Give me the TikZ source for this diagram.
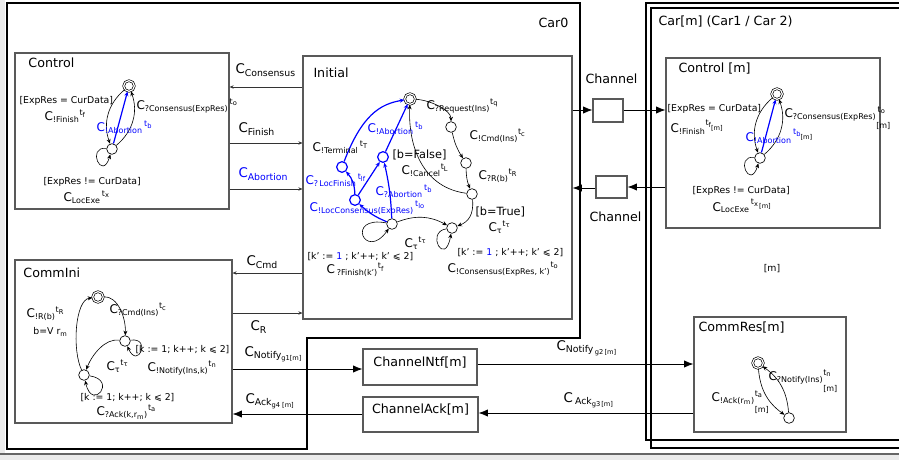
\documentclass[tikz,border=0pt]{standalone}
\usepackage{fontspec}
\setmainfont{DejaVu Sans}
\usetikzlibrary{arrows.meta,fit,positioning}

% channel label: C_{sub}^{sup}
\newcommand\Cl[2]{C\textsubscript{#1}\textsuperscript{#2}}
\newcommand\ts[1]{t\textsubscript{#1}}

\tikzset{every picture/.style={line width=0.75pt}}
\tikzset{
  box/.style={draw=black!65, line width=0.9pt, inner sep=0pt},
  carbox/.style={draw=black, line width=1.6pt},
  title/.style={font=\fontsize{9.5}{11}\selectfont, anchor=west, inner sep=0pt},
  lab/.style={font=\fontsize{9}{10}\selectfont, anchor=west, inner sep=0pt},
  cond/.style={font=\fontsize{8.5}{10}\selectfont, anchor=west, inner sep=0pt},
  guard/.style={font=\fontsize{7}{8}\selectfont, anchor=west, inner sep=0pt},
  sig/.style={font=\fontsize{10}{12}\selectfont, anchor=west, inner sep=0pt},
  loc/.style={circle, draw, minimum size=8pt, inner sep=0pt, fill=white, line width=0.5pt},
  iloc/.style={loc, double, double distance=0.9pt},
  bloc/.style={loc, draw=blue, line width=0.9pt},
  tr/.style={-{Stealth[length=3.5pt,width=3pt]}, line width=0.45pt},
  btr/.style={tr, draw=blue, line width=0.9pt},
  wire/.style={-{Stealth[length=3pt,width=2.6pt]}, line width=0.5pt, black!80},
  pipe/.style={-{Latex[length=7pt,width=5.5pt]}, line width=0.6pt},
}

\begin{document}
\begin{tikzpicture}[x=0.75pt,y=0.75pt,yscale=-1,xscale=1]
        \useasboundingbox (0,0) rectangle (899,460);
        % screen edges
        \fill[black!8] (0,0) rectangle (5,460);
        \fill[black!8] (0,453) rectangle (899,460);
        \draw[black!60, line width=1.5pt] (0,454) -- (899,454);

        % car outlines
        \draw[carbox] (7,3) -- (580,3) -- (580,338) -- (307,338) -- (307,449) -- (7,449) -- cycle;
        \draw[carbox] (646,3) rectangle (910,440);
        \draw[carbox] (651,8) rectangle (905,448);
        \node[title] at (538,23) {Car0};
        \node[title] at (658,22) {Car[m] (Car1 / Car 2)};

        % components
        \node[box, fit={(15,53) (229,209)}] (Control) {};
        \node[box, fit={(303,56) (572,319)}] (Initial) {};
        \node[box, fit={(15,260) (232,423)}] (CommIni) {};
        \node[box, fit={(593,99) (623,122)}] (ChanA) {};
        \node[box, fit={(596,176) (627,198)}] (ChanB) {};
        \node[box, fit={(666,58) (880,228)}] (ControlM) {};
        \node[box, fit={(694,317) (846,432)}] (CommRes) {};
        \node[box, fit={(363,349) (477,385)}, font=\fontsize{9.5}{11}\selectfont] (ChanNtf) {ChannelNtf[m]};
        \node[box, fit={(363,397) (478,432)}, font=\fontsize{9.5}{11}\selectfont] (ChanAck) {ChannelAck[m]};

        \node[title] at (28,63) {Control};
        \node[title] at (313,73) {Initial};
        \node[title] at (23,273) {CommIni};
        \node[title] at (678,69) {Control [m]};
        \node[title] at (698,328) {CommRes[m]};
        \node[title] at (585,79) {Channel};
        \node[title] at (589,217) {Channel};
        \node[guard, anchor=center] at (772,269) {[m]};

        % signals between components
        \draw[wire] (Initial.west |- 0,87) -- (Control.east |- 0,87);
        \node[sig] at (235,70) {\Cl{Consensus}{}};
        \draw[wire] (Control.east |- 0,143) -- (Initial.west |- 0,143);
        \node[sig] at (238,129) {\Cl{Finish}{}};
        \draw[wire] (Control.east |- 0,189) -- (Initial.west |- 0,189);
        \node[sig, blue] at (238,174) {\Cl{Abortion}{}};
        \draw[wire] (Initial.west |- 0,273) -- (CommIni.east |- 0,273);
        \node[sig] at (246,262) {\Cl{Cmd}{}};
        \draw[wire] (CommIni.east |- 0,313) -- (Initial.west |- 0,313);
        \node[sig] at (250,327) {\Cl{R}{}};
        \draw[pipe] (CommIni.east |- 0,369) -- (ChanNtf.west |- 0,369);
        \node[sig] at (244,354) {C\textsubscript{Notify\textsubscript{g1[m]}}};
        \draw[pipe] (ChanAck.west |- 0,414) -- (CommIni.east |- 0,414);
        \node[sig] at (245,401) {C\textsubscript{Ack\textsubscript{g4 [m]}}};
        \draw[pipe] (ChanNtf.east |- 0,364) -- (CommRes.west |- 0,364);
        \node[sig] at (556,348) {C\textsubscript{Notify\,\textsubscript{g2\,[m]}}};
        \draw[pipe] (CommRes.west |- 0,413) -- (ChanAck.east |- 0,413);
        \node[sig] at (563,400) {C\,\textsubscript{Ack\textsubscript{g3\,[m]}}};
        \draw[pipe] (Initial.east |- 0,110) -- (ChanA.west |- 0,110);
        \draw[pipe] (ChanA.east |- 0,110) -- (ControlM.west |- 0,110);
        \draw[pipe] (ControlM.west |- 0,187) -- (ChanB.east |- 0,187);
        \draw[pipe] (ChanB.west |- 0,188) -- (Initial.east |- 0,188);

        % Control automaton
        \node[iloc] (c0) at (129,86) {};
        \node[loc] (c1) at (112,149) {};
        \draw[tr] (c1) to[bend left=35] (c0);
        \draw[tr] (c0) to[bend left=35] (c1);
        \draw[tr] (c1) .. controls (86,146) and (102,182) .. (c1);
        \draw[btr] (c1) -- (c0);
        \node[guard] at (19,101) {[ExpRes = CurData]};
        \node[lab] at (44,116) {\Cl{!Finish}{\ts{f}}};
        \node[lab] at (136,106) {\Cl{?Consensus(ExpRes)}{\,\ts{o}}};
        \node[lab, blue] at (96,127) {\Cl{!Abortion}{\,\ts{b}}};
        \node[guard] at (43,182) {[ExpRes != CurData]};
        \node[lab] at (63,197) {\Cl{LocExe}{\,\ts{x}}};

        % Initial automaton
        \node[iloc] (i0) at (410,99) {};
        \node[loc] (i1) at (451,127) {};
        \node[loc] (i2) at (466,163) {};
        \node[loc] (i3) at (472,194) {};
        \node[loc] (i4) at (452,228) {};
        \node[loc] (i5) at (392,224) {};
        \node[bloc] (b1) at (355,200) {};
        \node[bloc] (b2) at (342,167) {};
        \node[bloc] (b3) at (383,157) {};
        \draw[tr] (i0) .. controls (430,100) and (451,110) .. (i1);
        \draw[tr] (i1) to[bend left=10] (i2);
        \draw[tr] (i2) to[bend left=10] (i3);
        \draw[tr] (i3) .. controls (474,215) and (468,222) .. (i4);
        \draw[tr] (i4) .. controls (425,232) and (445,268) .. (i4);
        \draw[tr] (i5) to[bend right=25] (i4);
        \draw[tr] (i5) .. controls (345,215) and (365,262) .. (i5);
        \draw[tr] (i3) .. controls (425,188) and (408,150) .. (i0);
        \draw[btr] (i5) to[bend right=10] (b1);
        \draw[btr] (i5) to[bend left=5] (b3);
        \draw[btr] (b1) to[bend left=20] (b2);
        \draw[btr] (b1) -- (b3);
        \draw[btr] (b2) .. controls (362,115) and (380,104) .. (i0);
        \draw[btr] (b3) -- (i0);
        \node[lab] at (426,106) {\Cl{?Request(Ins)}{\ts{q}}};
        \node[lab] at (469,136) {\Cl{!Cmd(Ins)}{\ts{c}}};
        \node[lab] at (478,176) {\Cl{?R(b)}{\ts{R}}};
        \node[lab] at (401,170) {\Cl{!Cancel}{\ts{L}}};
        \node[lab] at (312,147) {\Cl{!Terminal}{\,\ts{T}}};
        \node[lab, blue] at (367,128) {\Cl{!Abortion}{\,\ts{b}}};
        \node[lab, blue] at (305,180) {\Cl{?\,LocFinish}{\,\ts{lf}}};
        \node[lab, blue] at (375,191) {\Cl{?Abortion}{\,\ts{b}}};
        \node[lab, blue] at (309,208) {\Cl{!LocConsensus(ExpRes)}{\,\ts{lo}}};
        \node[cond] at (392,155) {[b=False]};
        \node[cond] at (475,212) {[b=True]};
        \node[lab] at (488,227) {\Cl{τ}{\ts{τ}}};
        \node[lab] at (404,243) {\Cl{τ}{\ts{τ}}};
        \node[guard] at (307,257) {[k' := \textcolor{blue}{1} ; k'++; k' ⩽ 2]};
        \node[lab] at (326,270) {C\,\textsubscript{?Finish(k')}\textsuperscript{\ts{f}}};
        \node[guard] at (457,253) {[k' := \textcolor{blue}{1} ; k'++; k' ⩽ 2]};
        \node[lab] at (447,269) {\Cl{!Consensus(ExpRes, k')}{\ts{o}}};

        % CommIni automaton
        \node[iloc] (m0) at (98,297) {};
        \node[loc] (m1) at (125,341) {};
        \node[loc] (m2) at (84,375) {};
        \draw[tr] (m0) .. controls (118,296) and (126,318) .. (m1);
        \draw[tr] (m1) .. controls (152,337) and (138,370) .. (m1);
        \draw[tr] (m1) .. controls (105,338) and (92,355) .. (m2);
        \draw[tr] (m2) .. controls (118,380) and (92,412) .. (m2);
        \draw[tr] (m2) .. controls (72,350) and (75,300) .. (m0);
        \node[lab] at (26,314) {\Cl{!R(b)}{\ts{R}}};
        \node[guard] at (33,332) {b=V r\textsubscript{m}};
        \node[lab] at (109,310) {\Cl{?Cmd(Ins)}{\ts{c}}};
        \node[guard] at (135,350) {[k := 1; k++; k ⩽ 2]};
        \node[lab] at (147,368) {\Cl{!Notify(Ins,k)}{\ts{n}}};
        \node[lab] at (106,366) {\Cl{τ}{\ts{τ}}};
        \node[guard] at (80,398) {[k := 1; k++; k ⩽ 2]};
        \node[lab] at (96,412) {\Cl{?Ack(k,r\textsubscript{m})}{\ts{a}}};

        % Control[m] automaton
        \node[iloc] (k0) at (777,94) {};
        \node[loc] (k1) at (760,158) {};
        \draw[tr] (k1) to[bend left=35] (k0);
        \draw[tr] (k0) to[bend left=35] (k1);
        \draw[tr] (k1) .. controls (734,155) and (750,191) .. (k1);
        \draw[btr] (k1) -- (k0);
        \node[guard] at (667,109) {[ExpRes = CurData]};
        \node[lab] at (670,127) {\Cl{!Finish}{t\textsubscript{f\textsubscript{[m]}}}};
        \node[lab] at (784,118) {C\textsubscript{?Consensus(ExpRes)}\rlap{\textsuperscript{\,\ts{o}}}\raisebox{-1.6ex}{\fontsize{6}{7}\selectfont[m]}};
        \node[lab, blue] at (745,136) {\Cl{!Abortion}{\,t\textsubscript{b\textsubscript{\color{black}[m]}}}};
        \node[guard] at (692,191) {[ExpRes != CurData]};
        \node[lab] at (712,206) {\Cl{LocExe}{\,t\textsubscript{x\,\textsubscript{[m]}}}};

        % CommRes automaton
        \node[iloc] (r0) at (758,363) {};
        \node[loc] (r1) at (789,418) {};
        \draw[tr] (r0) to[bend left=25] (r1);
        \draw[tr] (r1) to[bend left=25] (r0);
        \node[lab] at (768,381) {C\textsubscript{?Notify(Ins)}\rlap{\textsuperscript{\ts{n}}}\raisebox{-1.6ex}{\fontsize{6}{7}\selectfont[m]}};
        \node[lab] at (711,402) {C\textsubscript{!Ack(r\textsubscript{m})}\rlap{\textsuperscript{\ts{a}}}\raisebox{-1.6ex}{\fontsize{6}{7}\selectfont[m]}};
\end{tikzpicture}
\end{document}
